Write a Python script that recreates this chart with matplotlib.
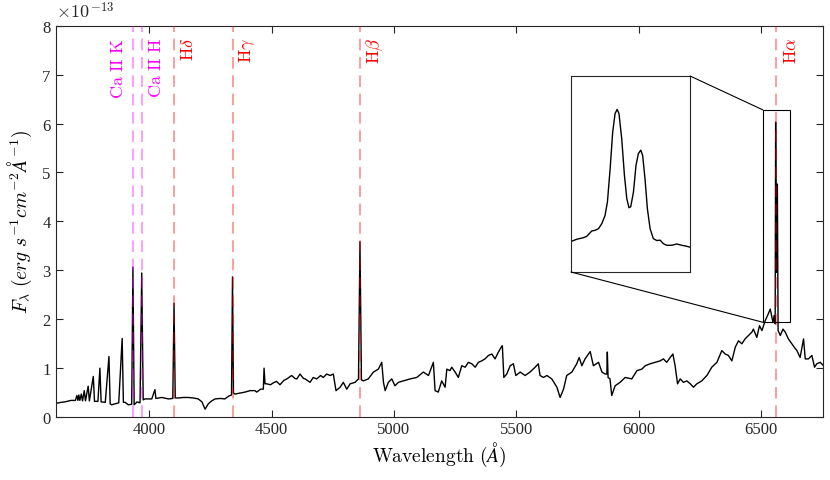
import numpy as np
import matplotlib
matplotlib.use('Agg')
import matplotlib.pyplot as plt
from matplotlib.patches import Rectangle, ConnectionPatch

plt.rcParams['font.family'] = 'Liberation Serif'
plt.rcParams['mathtext.fontset'] = 'cm'

# spectrum, flux in units of 1e-13
wave = [3617, 3640, 3655, 3680, 3698, 3704, 3708, 3712, 3716, 3722, 3727, 3734, 3739,
        3750, 3755, 3771, 3776, 3790, 3798, 3803, 3820, 3835, 3840, 3846, 3860, 3875,
        3889, 3894, 3901, 3914, 3928, 3933, 3938, 3950, 3962, 3969, 3975, 3982, 3995,
        4010, 4023, 4027, 4051, 4078, 4096, 4101, 4106, 4119, 4140, 4159, 4180, 4200,
        4215, 4228, 4241, 4255, 4269, 4290, 4309, 4325, 4336, 4340, 4344, 4350, 4370,
        4391, 4412, 4432,
        4439, 4455, 4466, 4469, 4473, 4480, 4495, 4507, 4520, 4534, 4550, 4562, 4582,
        4595, 4603, 4616, 4630, 4637, 4657, 4670, 4684, 4700, 4711, 4725, 4739, 4752,
        4763, 4780, 4793, 4807, 4821, 4841, 4855, 4861, 4867, 4875, 4895, 4916, 4936,
        4950, 4957, 4964, 4977, 4991, 5004, 5018, 5038, 5066, 5093, 5120, 5141, 5161,
        5168, 5181, 5195, 5209, 5216, 5229,
        5236, 5250, 5263, 5277, 5291, 5304, 5318, 5332, 5345, 5359, 5372, 5386, 5400,
        5413, 5427, 5438, 5443, 5449, 5461, 5475, 5488, 5498, 5516, 5536, 5556, 5577,
        5590, 5597, 5611, 5625, 5645, 5666, 5679, 5693, 5706, 5727, 5747, 5757, 5768,
        5781, 5802, 5815, 5836, 5850, 5863, 5870, 5872, 5875, 5883, 5890, 5904, 5924,
        5945, 5972, 5993, 6013, 6027,
        6047, 6068, 6088, 6101, 6115, 6129, 6140, 6149, 6159, 6170, 6183, 6197, 6211,
        6224, 6238, 6258, 6279, 6299, 6320, 6340, 6354, 6367, 6381, 6395, 6408, 6422,
        6435, 6449, 6463, 6469, 6483, 6494, 6504, 6517, 6527, 6538, 6549, 6554, 6558,
        6560, 6563, 6567, 6570, 6579, 6590, 6599, 6612, 6626, 6636, 6647, 6660, 6674,
        6681, 6694, 6708, 6719, 6728, 6742, 6756]
flux = [0.27, 0.29, 0.30, 0.33, 0.33, 0.43, 0.33, 0.44, 0.33, 0.46, 0.32, 0.53, 0.32,
        0.62, 0.32, 0.82, 0.31, 0.31, 0.99, 0.30, 0.29, 1.23, 0.26, 0.24, 0.26, 0.28,
        1.60, 0.29, 0.29, 0.24, 0.25, 3.06, 0.24, 0.30, 0.28, 2.94, 0.34, 0.36, 0.36,
        0.36, 0.55, 0.37, 0.39, 0.36, 0.37, 2.32, 0.38, 0.38, 0.39, 0.39, 0.38, 0.36,
        0.30, 0.15, 0.26, 0.32, 0.36, 0.37, 0.36, 0.42, 0.44, 2.86, 0.48, 0.46, 0.48,
        0.50, 0.53, 0.53,
        0.50, 0.56, 0.56, 0.99, 0.67, 0.67, 0.65, 0.69, 0.72, 0.65, 0.74, 0.77, 0.84,
        0.78, 0.77, 0.87, 0.78, 0.77, 0.70, 0.80, 0.77, 0.84, 0.80, 0.87, 0.84, 0.87,
        0.53, 0.60, 0.70, 0.56, 0.67, 0.70, 0.77, 3.58, 0.75, 0.73, 0.77, 0.91, 0.97,
        1.11, 0.70, 0.53, 0.70, 0.77, 0.63, 0.70, 0.73, 0.77, 0.80, 0.91, 0.84, 1.11,
        0.53, 0.50, 0.73, 0.60, 0.97, 0.94,
        1.01, 0.91, 0.80, 1.04, 1.01, 1.11, 1.08, 1.01, 1.11, 1.14, 1.18, 1.25, 1.28,
        1.18, 1.32, 1.42, 1.45, 0.80, 0.87, 1.04, 1.08, 0.84, 0.91, 0.84, 0.91, 1.01,
        1.08, 0.84, 0.80, 0.84, 0.77, 0.60, 0.39, 0.56, 0.84, 0.91, 1.08, 1.21, 1.04,
        1.18, 1.33, 1.04, 1.11, 0.91, 0.87, 0.87, 1.32, 0.80, 0.77, 0.43, 0.63, 0.70,
        0.80, 0.77, 0.94, 0.97, 1.04,
        1.08, 1.11, 1.14, 1.18, 1.11, 1.21, 1.28, 1.04, 0.67, 0.77, 0.70, 0.73, 0.67,
        0.60, 0.67, 0.73, 0.84, 1.01, 1.11, 1.35, 1.28, 1.25, 1.14, 1.42, 1.55, 1.49,
        1.59, 1.66, 1.73, 1.79, 1.62, 1.86, 1.76, 1.96, 2.07, 2.20, 1.93, 2.07, 1.90,
        6.03, 2.95, 4.76, 1.76, 1.66, 1.79, 1.73, 1.59, 1.49, 1.42, 1.35, 1.21, 1.59,
        1.18, 1.18, 1.25, 1.01, 1.08, 1.11, 1.04]

# H-alpha profile as shown in the inset
ha_wave = [6528, 6531.4, 6535.3, 6537.2, 6540.2, 6542.1, 6544.1, 6546.1, 6548.0, 6549.4,
           6551.0, 6552.5, 6553.9, 6555.1, 6556.2, 6557.8, 6559.4, 6560.8, 6562.1, 6563.1,
           6564.7, 6566.2, 6567.6, 6569.0, 6570.1, 6571.5, 6572.9, 6574.5, 6576.4, 6578.4,
           6580.4, 6582.3, 6584.3, 6587.2, 6590.2, 6593.1, 6596.0, 6598]
ha_flux = [1.87, 1.94, 1.99, 2.03, 2.20, 2.22, 2.27, 2.43, 2.69, 3.11, 4.16, 5.31, 5.89,
           6.02, 5.89, 5.10, 3.95, 3.21, 2.93, 2.96, 3.42, 4.26, 4.63, 4.74, 4.58, 3.84,
           2.90, 2.27, 1.96, 1.90, 1.91, 1.80, 1.75, 1.75, 1.79, 1.75, 1.72, 1.69]

line_names = ['Ca II K', 'Ca II H', r'H\delta', r'H\gamma', r'H\beta', r'H\alpha']
line_waves = [3934, 3969, 4102, 4341, 4861, 6563]
line_colors = ['#ff00ff', '#ff00ff', 'red', 'red', 'red', 'red']
label_side = [-1, 1, 1, 1, 1, 1]

fig = plt.figure(figsize=(8.3, 4.81), dpi=100)
ax = fig.add_axes([0.067, 0.132, 0.925, 0.812])

ax.plot(wave, flux, color='black', lw=1.0, zorder=2)

for name, lw_, col, side in zip(line_names, line_waves, line_colors, label_side):
    ax.axvline(lw_, color=col, alpha=0.45, lw=1.2, dashes=(7, 4), zorder=3)
    if name.startswith('Ca'):
        txt = r'$\mathrm{' + name.replace(' ', r'\ ') + '}$'
    else:
        txt = r'$\mathrm{H}' + name[1:] + '$'
    ax.text(lw_ + side * 60, 7.78, txt, color=col, rotation=90,
            ha='center', va='top', fontsize=13)

ax.set_xlim(3617, 6755)
ax.set_ylim(0, 8)
ax.set_xticks([4000, 4500, 5000, 5500, 6000, 6500])
ax.set_yticks(range(0, 9))
ax.tick_params(direction='in', top=True, right=True, labelsize=12,
               length=5, width=0.8, colors='#262626')
for s in ax.spines.values():
    s.set_linewidth(0.8)
    s.set_color('#262626')
ax.set_xlabel(r'$\mathrm{Wavelength}\ (\AA)$', fontsize=14, labelpad=2)
ax.set_ylabel(r'$F_\lambda\ (erg\ s^{-1} cm^{-2} \AA^{-1})$', fontsize=14, labelpad=6)
ax.text(0.0, 1.012, r'$\times\mathrm{10}^{\,\mathrm{-13}}$', transform=ax.transAxes,
        fontsize=13, ha='left', va='bottom', color='#262626')

# zoom box around H-alpha
ax.add_patch(Rectangle((6508, 1.93), 110, 4.35, fill=False, ec='black', lw=0.8, zorder=4))

ins = fig.add_axes([0.688, 0.4324, 0.1434, 0.4075])
ins.plot(ha_wave, ha_flux, color='black', lw=1.0)
ins.set_xlim(6528, 6598)
ins.set_ylim(0.91, 7.07)
ins.set_xticks([])
ins.set_yticks([])
for s in ins.spines.values():
    s.set_linewidth(0.8)
    s.set_color('#262626')

for a, b in [((1, 1), (6508, 6.28)), ((0, 0), (6508, 1.93))]:
    con = ConnectionPatch(xyA=a, coordsA=ins.transAxes, xyB=b, coordsB=ax.transData,
                          color='black', lw=0.8)
    fig.add_artist(con)

fig.savefig('out.png', dpi=100)
